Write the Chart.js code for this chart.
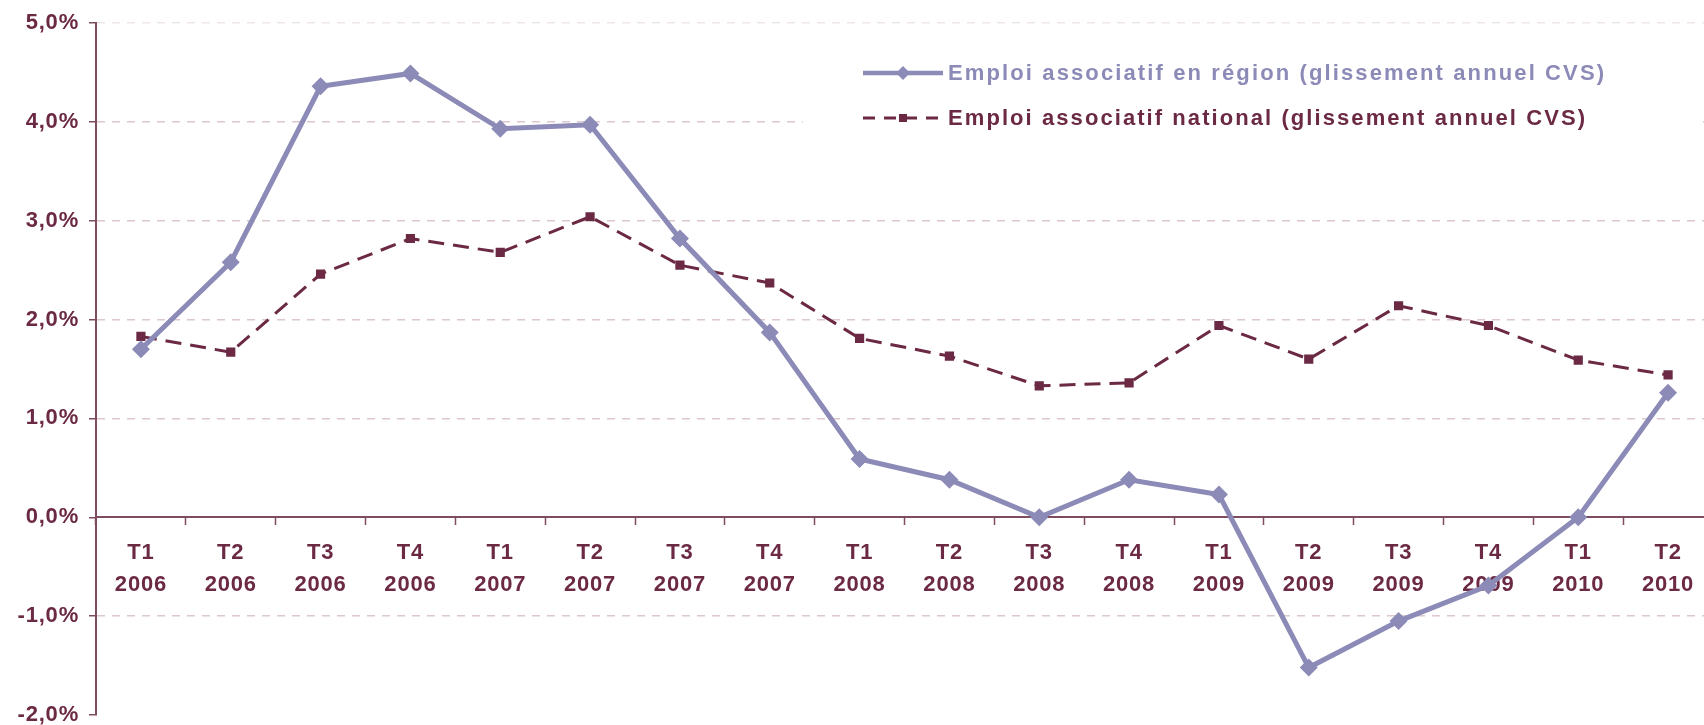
<!DOCTYPE html>
<html>
<head>
<meta charset="utf-8">
<script src="https://cdn.jsdelivr.net/npm/chart.js@4/dist/chart.umd.min.js"></script>
<style>
    html, body { margin: 0; padding: 0; background: #fff; overflow: hidden; }
    #wrap { position: absolute; left: 0; top: 0; }
</style>
</head>
<body>
<div id="wrap"><canvas id="myChart" width="1722" height="740"></canvas></div>
<script>
// Categories (quarter / year)
const quarters = ['T1', 'T2', 'T3', 'T4', 'T1', 'T2', 'T3', 'T4', 'T1', 'T2', 'T3', 'T4', 'T1', 'T2', 'T3', 'T4', 'T1', 'T2'];
const years = ['2006', '2006', '2006', '2006', '2007', '2007', '2007', '2007', '2008', '2008', '2008', '2008', '2009', '2009', '2009', '2009', '2010', '2010'];

// Series values (%)
const regionValues = [1.70, 2.58, 4.36, 4.49, 3.93, 3.97, 2.82, 1.87, 0.59, 0.38, 0.00, 0.38, 0.23, -1.52, -1.05, -0.69, 0.00, 1.26];
const nationalValues = [1.83, 1.67, 2.46, 2.82, 2.68, 3.04, 2.55, 2.37, 1.81, 1.63, 1.33, 1.36, 1.94, 1.60, 2.14, 1.94, 1.59, 1.44];

const regionLabel = 'Emploi associatif en région (glissement annuel CVS)';
const nationalLabel = 'Emploi associatif national (glissement annuel CVS)';

// Y axis ticks
const yMin = -2;
const yMax = 5;
const yStep = 1;

const lavender = '#8C8AB7';
const maroon = '#6B2944';
const axisColor = '#7E4C60';
const gridColor = '#DCC8CE';
const fontFamily = '"Liberation Sans", Arial, sans-serif';

const labels = quarters.map((q, i) => [q, years[i]]);

// draw text stretched to a given width (Excel spaces its letters wider)
function spacedText(ctx, text, x, y, width) {
    ctx.letterSpacing = '0px';
    const w = ctx.measureText(text).width;
    ctx.letterSpacing = ((width - w) / (text.length - 1)) + 'px';
    ctx.fillText(text, x, y);
}

// a little letter spacing for the tick labels too
const spacing = {
    id: 'spacing',
    beforeDraw(chart) {
        chart.ctx.letterSpacing = '0.8px';
    }
};

// Custom legend drawn inside the plot, over a white box (like Excel)
const legendBox = {
    id: 'legendBox',
    afterDraw(chart) {
        const ctx = chart.ctx;
        ctx.save();
        ctx.fillStyle = '#fff';
        ctx.fillRect(803, 42, 900, 96);

        ctx.font = 'bold 22px ' + fontFamily;
        ctx.textBaseline = 'middle';

        // row 1 : solid line + diamond
        let y = 73;
        ctx.strokeStyle = lavender;
        ctx.lineWidth = 4.5;
        ctx.beginPath();
        ctx.moveTo(863, y);
        ctx.lineTo(943, y);
        ctx.stroke();
        ctx.fillStyle = lavender;
        ctx.beginPath();
        ctx.moveTo(903, y - 7);
        ctx.lineTo(910, y);
        ctx.lineTo(903, y + 7);
        ctx.lineTo(896, y);
        ctx.closePath();
        ctx.fill();
        spacedText(ctx, regionLabel, 948, y + 1, 656);

        // row 2 : dashed line + square
        y = 118;
        ctx.strokeStyle = maroon;
        ctx.lineWidth = 3;
        ctx.setLineDash([12, 9]);
        ctx.beginPath();
        ctx.moveTo(863, y);
        ctx.lineTo(943, y);
        ctx.stroke();
        ctx.setLineDash([]);
        ctx.fillStyle = maroon;
        ctx.fillRect(899, y - 4, 8, 8);
        spacedText(ctx, nationalLabel, 948, y + 1, 637);
        ctx.restore();
    }
};

const ctx = document.getElementById('myChart').getContext('2d');
const myChart = new Chart(ctx, {
    type: 'line',
    data: {
        labels: labels,
        datasets: [
            {
                label: regionLabel,
                data: regionValues,
                borderColor: lavender,
                backgroundColor: lavender,
                borderWidth: 5,
                pointStyle: 'rectRot',
                pointRadius: 9,
                pointBorderWidth: 0,
                tension: 0,
                fill: false
            },
            {
                label: nationalLabel,
                data: nationalValues,
                borderColor: maroon,
                backgroundColor: maroon,
                borderWidth: 3,
                borderDash: [16, 9],
                pointStyle: 'rect',
                pointRadius: 6.5,
                pointBorderWidth: 0,
                tension: 0,
                fill: false
            }
        ]
    },
    options: {
        responsive: false,
        devicePixelRatio: 1,
        animation: false,
        layout: {
            padding: { top: 23, right: 2, bottom: 25, left: 0 }
        },
        plugins: {
            legend: { display: false },
            tooltip: { enabled: false }
        },
        scales: {
            x: {
                position: { y: 0 },
                offset: true,
                afterFit(scale) { scale.paddingLeft = 0; scale.paddingRight = 0; },
                grid: {
                    drawOnChartArea: false,
                    drawTicks: true,
                    tickLength: 7,
                    tickColor: axisColor,
                    tickWidth: 1.5,
                    offset: true
                },
                border: { color: axisColor, width: 2 },
                ticks: {
                    color: maroon,
                    padding: 12,
                    maxRotation: 0,
                    autoSkip: false,
                    font: { family: fontFamily, size: 22, weight: 'bold', lineHeight: 1.47 }
                }
            },
            y: {
                min: yMin,
                max: yMax,
                afterFit(scale) {
                    scale.width = 96;
                    scale.paddingTop = 0;
                    scale.paddingBottom = 0;
                },
                grid: {
                    color: c => {
                        if (!c.tick) return gridColor;
                        if (c.tick.value === 0 || c.tick.value === yMin) return 'rgba(0,0,0,0)';
                        if (c.tick.value === yMax) return '#EFE5E8';
                        return gridColor;
                    },
                    lineWidth: 1.5,
                    tickLength: 7,
                    tickColor: axisColor,
                    tickWidth: 1.5
                },
                border: { color: axisColor, width: 2, dash: [8, 7] },
                ticks: {
                    stepSize: yStep,
                    color: maroon,
                    padding: 10,
                    font: { family: fontFamily, size: 22, weight: 'bold' },
                    callback: v => v.toFixed(1).replace('.', ',') + '%'
                }
            }
        }
    },
    plugins: [spacing, legendBox]
});
</script>
</body>
</html>
